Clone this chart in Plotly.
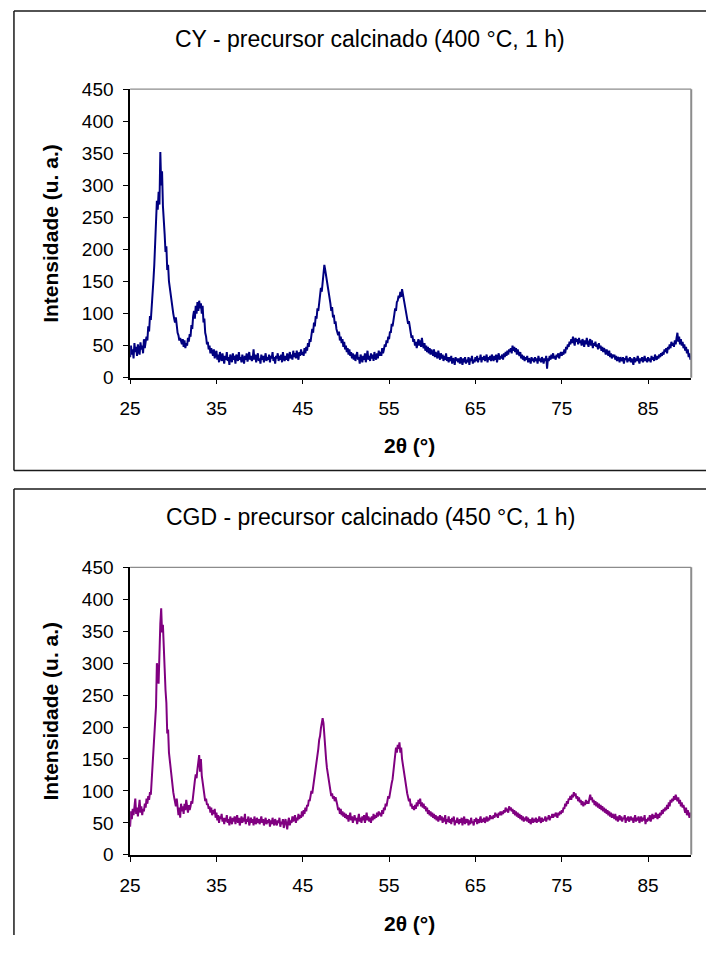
import plotly.graph_objects as go

# Diffractograms of the calcined precursors, step scan 25-90 deg (2-theta), 0.1 deg step
SCAN_START = 25.0
SCAN_STEP = 0.1

# CY - precursor calcined at 400 C for 1 h (intensity, a.u.), one row per degree
cy_intensity = [
    32, 50, 36, 44, 30, 54, 40, 48, 34, 52,            # 25
    42, 36, 55, 44, 50, 38, 60, 46, 56, 64,            # 26
    58, 80, 72, 96, 90, 118, 130, 152, 176, 214,       # 27
    240, 276, 262, 290, 270, 352, 300, 322, 268, 232,  # 28
    224, 196, 205, 168, 176, 150, 138, 128, 116, 106,  # 29
    100, 92, 86, 94, 76, 70, 66, 58, 62, 56,           # 30
    52, 60, 48, 58, 46, 54, 50, 62, 56, 68,            # 31
    64, 82, 76, 96, 104, 92, 112, 100, 118, 104,       # 32
    120, 108, 116, 100, 112, 86, 92, 70, 64, 52,       # 33
    56, 44, 50, 38, 46, 40, 34, 44, 30, 38,            # 34
    42, 28, 36, 24, 40, 32, 26, 38, 30, 22,            # 35
    34, 28, 40, 26, 32, 20, 36, 30, 24, 38,            # 36
    28, 34, 22, 36, 30, 26, 40, 28, 32, 24,            # 37
    36, 30, 22, 34, 28, 38, 25, 32, 40, 28,            # 38
    34, 26, 30, 44, 28, 36, 24, 32, 38, 26,            # 39
    30, 22, 36, 28, 34, 24, 30, 38, 26, 32,            # 40
    28, 36, 24, 34, 30, 40, 26, 32, 22, 34,            # 41
    30, 38, 26, 34, 28, 36, 24, 40, 30, 26,            # 42
    34, 28, 38, 26, 32, 40, 30, 36, 28, 42,            # 43
    32, 38, 30, 42, 34, 28, 40, 34, 44, 36,            # 44
    40, 34, 46, 38, 48, 42, 54, 48, 60, 56,            # 45
    66, 76, 70, 86, 80, 96, 92, 108, 104, 118,         # 46
    126, 140, 134, 152, 162, 176, 168, 160, 148, 142,  # 47
    132, 122, 116, 104, 110, 94, 98, 84, 88, 76,       # 48
    72, 66, 72, 58, 64, 54, 60, 48, 56, 44,            # 49
    50, 40, 46, 36, 44, 34, 40, 30, 38, 28,            # 50
    36, 26, 34, 40, 28, 32, 22, 36, 30, 24,            # 51
    34, 28, 38, 24, 32, 42, 28, 34, 26, 38,            # 52
    30, 36, 26, 40, 32, 28, 38, 30, 42, 34,            # 53
    40, 34, 46, 38, 44, 52, 48, 58, 54, 64,            # 54
    60, 72, 70, 84, 80, 94, 98, 108, 104, 118,         # 55
    120, 128, 124, 134, 126, 138, 130, 122, 118, 106,  # 56
    100, 92, 84, 88, 76, 72, 62, 66, 56, 60,           # 57
    50, 56, 46, 54, 60, 50, 58, 48, 62, 52,            # 58
    46, 54, 42, 50, 40, 48, 38, 46, 36, 44,            # 59
    40, 34, 44, 32, 40, 36, 30, 42, 34, 28,            # 60
    38, 30, 36, 26, 34, 28, 38, 26, 32, 24,            # 61
    32, 26, 34, 22, 30, 28, 20, 32, 26, 30,            # 62
    24, 30, 22, 32, 26, 20, 30, 24, 32, 22,            # 63
    28, 24, 32, 20, 30, 26, 34, 22, 28, 24,            # 64
    32, 26, 34, 24, 30, 28, 36, 24, 32, 28,            # 65
    34, 26, 30, 36, 24, 32, 28, 34, 26, 36,            # 66
    30, 26, 34, 28, 36, 24, 32, 38, 28, 34,            # 67
    30, 36, 28, 38, 32, 40, 34, 42, 36, 44,            # 68
    40, 46, 38, 50, 42, 48, 40, 46, 36, 44,            # 69
    38, 34, 40, 30, 36, 28, 34, 26, 32, 28,            # 70
    34, 24, 30, 28, 22, 32, 26, 30, 24, 32,            # 71
    26, 30, 22, 34, 26, 30, 24, 32, 28, 22,            # 72
    30, 26, 34, 14, 30, 26, 34, 28, 36, 30,            # 73
    38, 30, 34, 28, 36, 32, 38, 30, 36, 40,            # 74
    34, 40, 36, 44, 38, 48, 44, 52, 48, 56,            # 75
    52, 60, 54, 64, 56, 50, 62, 56, 60, 52,            # 76
    62, 54, 58, 50, 60, 56, 48, 58, 52, 62,            # 77
    54, 48, 56, 60, 50, 58, 46, 54, 50, 56,            # 78
    48, 52, 44, 54, 46, 50, 42, 48, 40, 46,            # 79
    42, 36, 44, 38, 34, 42, 32, 38, 30, 36,            # 80
    32, 36, 28, 34, 26, 32, 30, 24, 32, 28,            # 81
    26, 32, 22, 30, 28, 34, 24, 30, 26, 32,            # 82
    24, 30, 26, 20, 32, 24, 30, 26, 34, 28,            # 83
    22, 30, 26, 32, 24, 28, 34, 26, 30, 24,            # 84
    32, 26, 30, 24, 34, 28, 32, 26, 36, 30,            # 85
    28, 34, 30, 36, 32, 38, 34, 40, 36, 44,            # 86
    40, 46, 38, 48, 44, 52, 46, 56, 50, 54,            # 87
    48, 58, 52, 62, 70, 56, 64, 52, 60, 50,            # 88
    56, 46, 52, 42, 48, 38, 44, 32, 38, 28,            # 89
    34,                                                # 90
]

# CGD - precursor calcined at 450 C for 1 h (intensity, a.u.), one row per degree
cgd_intensity = [
    44, 68, 56, 72, 62, 76, 88, 64, 74, 60,            # 25
    70, 86, 66, 76, 62, 72, 68, 80, 74, 88,            # 26
    80, 92, 86, 98, 94, 118, 130, 150, 176, 210,       # 27
    232, 300, 290, 268, 330, 362, 386, 348, 360, 310,  # 28
    292, 258, 238, 190, 196, 160, 146, 130, 116, 104,  # 29
    98, 90, 84, 76, 88, 70, 62, 74, 58, 80,            # 30
    68, 76, 64, 80, 70, 86, 72, 66, 78, 70,            # 31
    76, 84, 80, 96, 106, 116, 126, 120, 134, 142,      # 32
    156, 130, 150, 124, 112, 104, 92, 84, 88, 78,      # 33
    80, 72, 76, 66, 74, 62, 70, 64, 72, 58,            # 34
    66, 54, 62, 50, 60, 56, 64, 52, 58, 48,            # 35
    58, 52, 62, 50, 56, 46, 60, 54, 48, 58,            # 36
    52, 60, 48, 56, 62, 50, 58, 46, 54, 60,            # 37
    50, 58, 52, 64, 48, 56, 52, 60, 46, 54,            # 38
    58, 50, 56, 46, 60, 52, 48, 58, 50, 56,            # 39
    48, 54, 60, 50, 56, 46, 52, 58, 48, 54,            # 40
    50, 56, 44, 54, 48, 58, 50, 46, 56, 52,            # 41
    46, 54, 50, 58, 44, 52, 48, 56, 42, 50,            # 42
    56, 48, 40, 52, 58, 46, 54, 50, 60, 52,            # 43
    56, 62, 50, 58, 54, 64, 56, 62, 58, 68,            # 44
    60, 70, 64, 74, 68, 78, 76, 86, 84, 96,            # 45
    100, 96, 106, 112, 120, 134, 146, 156, 166, 180,   # 46
    186, 198, 208, 214, 206, 182, 176, 150, 136, 126,  # 47
    114, 104, 98, 92, 96, 88, 92, 84, 90, 80,          # 48
    78, 70, 74, 64, 72, 62, 68, 60, 66, 58,            # 49
    64, 56, 62, 52, 60, 66, 54, 60, 50, 58,            # 50
    62, 54, 58, 48, 56, 64, 52, 58, 50, 60,            # 51
    54, 62, 50, 58, 66, 54, 60, 52, 58, 50,            # 52
    60, 54, 64, 56, 62, 58, 66, 60, 68, 62,            # 53
    66, 60, 70, 64, 74, 70, 80, 76, 86, 92,            # 54
    88, 98, 104, 112, 118, 130, 146, 156, 168, 160,    # 55
    172, 166, 176, 160, 168, 150, 140, 128, 118, 108,  # 56
    102, 96, 90, 84, 88, 76, 80, 72, 76, 70,           # 57
    78, 72, 82, 76, 86, 80, 88, 76, 82, 74,            # 58
    80, 72, 76, 68, 74, 64, 70, 62, 68, 60,            # 59
    66, 58, 64, 56, 62, 54, 60, 52, 58, 62,            # 60
    54, 60, 50, 58, 52, 62, 48, 56, 52, 60,            # 61
    50, 56, 48, 58, 52, 60, 46, 54, 50, 58,            # 62
    52, 48, 56, 50, 58, 46, 54, 60, 48, 56,            # 63
    50, 56, 46, 54, 48, 58, 50, 52, 46, 56,            # 64
    52, 58, 48, 56, 50, 54, 60, 50, 56, 52,            # 65
    58, 50, 56, 60, 52, 58, 54, 62, 56, 60,            # 66
    56, 62, 58, 66, 60, 64, 58, 66, 62, 68,            # 67
    62, 68, 64, 70, 66, 74, 68, 72, 66, 76,            # 68
    70, 74, 68, 72, 64, 70, 62, 68, 60, 66,            # 69
    58, 64, 56, 62, 54, 60, 52, 58, 54, 60,            # 70
    52, 58, 50, 56, 48, 54, 58, 50, 56, 52,            # 71
    58, 50, 56, 52, 60, 54, 50, 58, 52, 56,            # 72
    54, 60, 52, 58, 56, 62, 54, 60, 58, 64,            # 73
    58, 64, 60, 66, 62, 58, 66, 62, 68, 64,            # 74
    70, 66, 74, 72, 80, 76, 84, 80, 88, 86,            # 75
    92, 86, 94, 90, 98, 92, 96, 88, 92, 84,            # 76
    90, 82, 86, 78, 84, 76, 82, 78, 86, 80,            # 77
    84, 80, 88, 94, 86, 90, 82, 86, 78, 84,            # 78
    76, 82, 74, 80, 72, 78, 70, 76, 68, 74,            # 79
    66, 72, 64, 70, 62, 68, 60, 66, 58, 64,            # 80
    60, 56, 64, 54, 60, 52, 58, 62, 54, 60,            # 81
    52, 58, 56, 62, 50, 58, 54, 60, 52, 56,            # 82
    60, 54, 58, 50, 56, 62, 52, 58, 54, 60,            # 83
    50, 56, 60, 52, 58, 54, 62, 48, 56, 52,            # 84
    58, 54, 62, 52, 58, 64, 56, 62, 58, 66,            # 85
    60, 56, 64, 58, 66, 62, 70, 64, 72, 68,            # 86
    74, 70, 78, 72, 82, 76, 86, 82, 88, 84,            # 87
    92, 86, 94, 88, 84, 90, 80, 86, 76, 82,            # 88
    74, 78, 70, 66, 74, 62, 70, 64, 58, 66,            # 89
    60,                                                # 90
]

two_theta = [round(SCAN_START + SCAN_STEP * i, 1) for i in range(len(cy_intensity))]

x_ticks = [25, 35, 45, 55, 65, 75, 85]
y_ticks = [0, 50, 100, 150, 200, 250, 300, 350, 400, 450]
titles = ["CY - precursor calcinado (400 °C, 1 h)", "CGD - precursor calcinado (450 °C, 1 h)"]
x_title = "2θ (°)"
y_title = "Intensidade (u. a.)"

# page is 722 x 962; the html body keeps its default 8 px margin around the figure
PAGE_W, PAGE_H, BODY_MARGIN = 722, 962, 8
W, H = PAGE_W - 2 * BODY_MARGIN, PAGE_H - 2 * BODY_MARGIN
FONT = "Liberation Sans, Arial, sans-serif"


def px(x):
    """page x pixel -> paper fraction (kept inside the figure)"""
    return min(max((x - BODY_MARGIN) / W, 0.0), 1.0)


def py(y):
    """page y pixel -> paper fraction (kept inside the figure)"""
    return min(max(1 - (y - BODY_MARGIN) / H, 0.0), 1.0)


fig = go.Figure()
fig.add_trace(go.Scatter(x=two_theta, y=cy_intensity, mode="lines",
                         line=dict(color="#000080", width=2), xaxis="x", yaxis="y",
                         showlegend=False, hoverinfo="skip"))
fig.add_trace(go.Scatter(x=two_theta[:len(cgd_intensity)], y=cgd_intensity, mode="lines",
                         line=dict(color="#800080", width=2), xaxis="x2", yaxis="y2",
                         showlegend=False, hoverinfo="skip"))

# panel geometry in page pixels: (plot top, plot bottom, panel box top, panel box bottom)
panels = [(89, 384, 9, 479), (578, 872, 498, None)]
x_left, x_right = 129, 699
box_left = 11

axis_common = dict(showgrid=False, zeroline=False, showline=True, linecolor="black",
                   linewidth=1.5, ticks="outside", ticklen=5, tickwidth=1,
                   tickcolor="black", tickfont=dict(family=FONT, size=19, color="black"))

layout = dict(width=W, height=H, margin=dict(l=0, r=0, t=0, b=0, pad=0),
              paper_bgcolor="white", plot_bgcolor="white", autosize=False)

box_line = dict(color="#1a1a1a", width=1.5)


def page_line(x0, y0, x1, y1, line):
    return dict(type="line", xref="paper", yref="paper",
                x0=px(x0), y0=py(y0), x1=px(x1), y1=py(y1), line=line)


shapes = []
annotations = []
for i, (top, bottom, box_top, box_bottom) in enumerate(panels):
    sfx = "" if i == 0 else str(i + 1)
    layout["xaxis" + sfx] = dict(axis_common, domain=[px(x_left), px(x_right)],
                                 range=[25, 90], tickvals=x_ticks, ticklabelstandoff=8,
                                 anchor="y" + sfx)
    layout["yaxis" + sfx] = dict(axis_common, domain=[py(bottom), py(top)],
                                 range=[0, 450], tickvals=y_ticks, ticklabelstandoff=6,
                                 anchor="x" + sfx)
    # grey frame on the top and right sides of the plot area
    shapes.append(dict(type="line", xref="x" + sfx + " domain", yref="y" + sfx + " domain",
                       x0=0, x1=1, y0=1, y1=1, line=dict(color="#8c8c8c", width=1.2)))
    shapes.append(dict(type="line", xref="x" + sfx + " domain", yref="y" + sfx + " domain",
                       x0=1, x1=1, y0=0, y1=1, line=dict(color="#8c8c8c", width=2)))
    # chart box, running off the right (and, for the lower chart, bottom) edge
    shapes.append(page_line(box_left, box_top, PAGE_W, box_top, box_line))
    shapes.append(page_line(box_left, box_top, box_left,
                            box_bottom if box_bottom else PAGE_H, box_line))
    if box_bottom:
        shapes.append(page_line(box_left, box_bottom, PAGE_W, box_bottom, box_line))
    offset = box_top - 9
    annotations.append(dict(text=titles[i], xref="paper", yref="paper",
                            x=px(373), y=py(38 + offset), xanchor="center", yanchor="middle",
                            showarrow=False, font=dict(family=FONT, size=23, color="black")))
    annotations.append(dict(text="<b>" + x_title + "</b>", xref="paper", yref="paper",
                            x=px(413), y=py(453 + offset), xanchor="center", yanchor="middle",
                            showarrow=False, font=dict(family=FONT, size=21, color="black")))
    annotations.append(dict(text="<b>" + y_title + "</b>", xref="paper", yref="paper",
                            x=px(48), y=py((top + bottom) / 2), xanchor="center",
                            yanchor="middle", textangle=-90, showarrow=False,
                            font=dict(family=FONT, size=21, color="black")))

layout["shapes"] = shapes
layout["annotations"] = annotations
fig.update_layout(**layout)

fig.write_html("out.html", config={"displayModeBar": False})
